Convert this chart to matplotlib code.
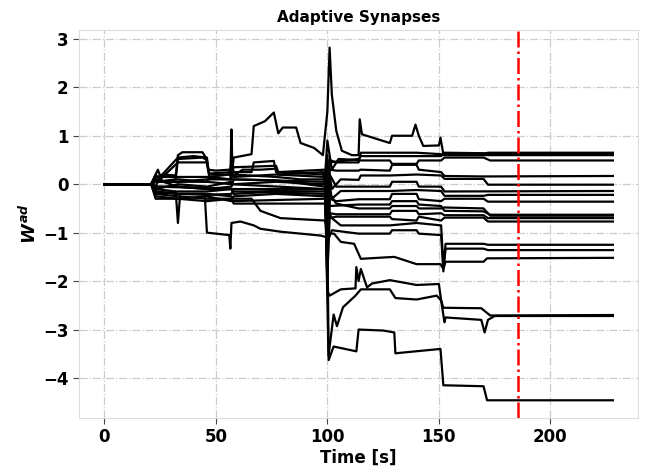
import matplotlib
matplotlib.use("Agg")
import matplotlib.pyplot as plt

plt.rcParams['font.family'] = 'DejaVu Sans'
plt.rcParams['font.weight'] = 'bold'
plt.rcParams['mathtext.fontset'] = 'custom'
plt.rcParams['mathtext.it'] = 'DejaVu Sans:italic:bold'
plt.rcParams['mathtext.rm'] = 'DejaVu Sans:bold'

# synapse weight traces: (time [s], weight) breakpoints
w_spike = [(0, 0), (21, 0), (23, 0.1), (25, 0.05), (33, 0.05), (46, 0.1), (57, 0.1), (58, 0.55),
           (66, 0.62), (67, 1.2), (72, 1.3), (76, 1.48), (78, 1.05), (80, 1.17), (86, 1.17), (88, 0.85),
           (94, 0.75), (98, 0.6), (100, 1.5), (101, 2.82), (102, 1.85), (104, 1.1), (106.5, 0.69),
           (111, 0.6), (114, 0.6), (114.5, 1.34), (115.5, 1.03), (128, 0.85), (129, 1.0), (138, 1.0),
           (139.5, 1.23), (141, 1.0), (143, 0.79), (150, 0.8), (150.7, 0.96), (152, 0.62), (170, 0.62),
           (172, 0.65), (228, 0.65)]
w_tophat = [(0, 0), (21, 0), (23, 0.12), (26, 0.2), (32, 0.18), (33, 0.6), (35, 0.66), (44, 0.66),
            (45.5, 0.55), (46.5, 0.3), (50, 0.28), (56, 0.3), (57, 0.15), (62, 0.3), (70, 0.3),
            (77, 0.32), (78, 0.2), (98, 0.25), (100, -0.3), (101, 0.5), (104, 0.45), (114, 0.45),
            (115, 0.65), (128, 0.65), (140, 0.65), (151, 0.62), (152.5, 0.6), (228, 0.6)]
w_top2 = [(0, 0), (21, 0), (23, 0.05), (32, 0.1), (33, 0.52), (44, 0.55), (46, 0.5), (47, 0.22),
          (57, 0.25), (58, 0.35), (77, 0.38), (78, 0.25), (99, 0.3), (100, -0.8), (101, 0.45),
          (114, 0.52), (115, 0.58), (151, 0.58), (152.5, 0.65), (170, 0.64), (173, 0.63), (228, 0.63)]
w_a = [(0, 0), (21, 0), (23, -0.05), (25, 0.15), (33, 0.55), (40, 0.58), (46, 0.55), (47, 0.15),
       (56, 0.2), (57, 0.45), (58, 0.25), (66, 0.25), (67, 0.45), (76, 0.48), (77, 0.25), (99, 0.2),
       (100, 0.9), (102, 0.3), (105, 0.52), (114, 0.5), (115, 0.49), (128, 0.49), (129, 0.42),
       (140, 0.42), (141, 0.49), (151, 0.49), (152.5, 0.55), (170, 0.55), (173, 0.49), (228, 0.49)]
w_b = [(0, 0), (21, 0), (23, 0.2), (25, 0.1), (33, 0.45), (46, 0.45), (47, 0.2), (57, 0.2),
       (58, 0.15), (77, 0.2), (99, 0.15), (100, -0.6), (101, 0.3), (104, 0.28), (114, 0.28),
       (115, 0.3), (128, 0.28), (129, 0.4), (140, 0.4), (141, 0.3), (151, 0.25), (152.5, 0.17),
       (170, 0.16), (228, 0.17)]
w_c = [(0, 0), (21, 0), (24, 0.3), (26, 0.05), (33, 0.1), (46, 0.05), (47, 0.12), (56.5, 0.1),
       (57, 1.13), (57.5, 0.2), (77, 0.15), (88, 0.1), (99, 0.1), (100, 0.5), (102, -0.1),
       (106, 0.1), (114, 0.09), (115, 0.18), (128, 0.18), (140, 0.2), (151, 0.18), (152.5, 0.11),
       (170, 0.11), (172, -0.01), (228, -0.01)]
w_d = [(0, 0), (21, 0), (23, -0.1), (33, 0.0), (46, -0.05), (57, 0.05), (58, 0.0), (77, 0.05),
       (99, 0.0), (100, -1.5), (101, 0.2), (104, -0.05), (114, -0.05), (128, -0.05), (129, 0.05),
       (140, 0.05), (141, -0.05), (151, -0.05), (152.5, -0.15), (228, -0.14)]
w_e = [(0, 0), (21, 0), (23, 0.1), (33, -0.05), (46, -0.1), (57, -0.05), (58, 0.1), (77, 0.08),
       (99, -0.05), (100, 0.3), (102, -0.3), (106, -0.14), (114, -0.14), (128, -0.14),
       (140, -0.12), (151, -0.14), (152.5, -0.24), (170, -0.24), (172, -0.22), (228, -0.22)]
w_f = [(0, 0), (21, 0), (24, -0.2), (33, -0.15), (46, -0.15), (57, -0.1), (58, -0.2), (77, -0.15),
       (99, -0.15), (100, -2.0), (101, -0.3), (104, -0.35), (114, -0.31), (128, -0.31), (129, -0.2),
       (140, -0.2), (141, -0.31), (151, -0.35), (152.5, -0.3), (170, -0.3), (172, -0.36), (228, -0.36)]
w_g = [(0, 0), (21, 0), (23, -0.1), (32, -0.15), (33, -0.8), (34, -0.2), (46, -0.2), (57, -0.25),
       (58, -0.3), (66, -0.3), (70, -0.55), (79, -0.7), (99, -0.75), (100, -1.0), (101, -0.2),
       (104, -0.4), (114, -0.5), (128, -0.5), (129, -0.45), (140, -0.45), (141, -0.5), (151, -0.5),
       (152.5, -0.48), (170, -0.5), (173, -0.65), (228, -0.65)]
w_g2 = [(0, 0), (21, 0), (23, -0.15), (33, -0.2), (46, -0.22), (57, -0.2), (58, -0.1), (77, -0.12),
        (99, -0.1), (100, 0.2), (101, -0.45), (114, -0.42), (128, -0.42), (129, -0.35), (140, -0.35),
        (141, -0.42), (151, -0.45), (152.5, -0.55), (170, -0.56), (173, -0.63), (228, -0.63)]
w_h = [(0, 0), (21, 0), (23, -0.2), (33, -0.25), (46, -0.3), (57, -0.3), (58, -0.25), (77, -0.2),
       (99, -0.25), (100, 0.6), (101, -0.6), (104, -0.62), (114, -0.62), (128, -0.62), (129, -0.55),
       (140, -0.55), (141, -0.62), (151, -0.6), (152.5, -0.64), (170, -0.64), (172, -0.7), (228, -0.7)]
w_i = [(0, 0), (21, 0), (23, -0.3), (33, -0.3), (46, -0.25), (57, -0.35), (99, -0.3), (100, -1.8),
       (101, -0.7), (104, -0.67), (128, -0.67), (129, -0.72), (140, -0.75), (141, -0.67),
       (151, -0.75), (152.5, -0.69), (170, -0.69), (172, -0.77), (228, -0.77)]
w_j = [(0, 0), (21, 0), (24, -0.05), (33, -0.05), (46, -0.1), (57, -0.1), (58, -0.15), (99, -0.2),
       (100, -0.5), (102, -0.7), (106, -0.85), (114, -0.85), (128, -0.85), (140, -0.8), (151, -0.85),
       (152, -1.7), (153, -1.23), (170, -1.23), (172, -1.25), (228, -1.25)]
w_k = [(0, 0), (21, 0), (23, 0.05), (46, 0.05), (57, 0.0), (99, -0.1), (100, -1.2), (102, -0.95),
       (114, -1.02), (128, -1.02), (129, -0.95), (140, -0.95), (141, -1.02), (151, -1.05),
       (152, -1.8), (153, -1.33), (170, -1.33), (172, -1.36), (228, -1.36)]
w_low = [(0, 0), (21, 0), (23, -0.15), (33, -0.2), (45, -0.2), (46, -1.0), (52, -1.03), (56, -1.05),
         (56.5, -1.33), (57, -0.8), (61, -0.77), (67, -0.85), (70, -0.92), (79, -0.98), (88, -1.02),
         (97, -1.06), (100, -1.1), (100.6, -3.63), (102.8, -3.35), (113, -3.45), (114, -3.0),
         (125, -3.02), (130, -3.06), (130.5, -3.49), (150.7, -3.4), (152, -4.15), (170, -4.17),
         (171.6, -4.46), (228, -4.46)]
w_m = [(0, 0), (21, 0), (23, -0.25), (33, -0.3), (46, -0.35), (57, -0.3), (58, -0.4), (99, -0.4),
       (100, -1.02), (103, -1.02), (106, -1.19), (112, -1.23), (115, -1.54), (130, -1.5),
       (140, -1.65), (150.7, -1.65), (152, -1.75), (153, -1.6), (170, -1.6), (171.6, -1.53),
       (228, -1.52)]
w_n = [(0, 0), (21, 0), (23, 0.15), (46, 0.15), (57, 0.1), (99, 0.05), (100, -2.2), (101, -2.3),
       (106, -2.17), (112.6, -2.15), (113, -1.71), (114, -2.0), (115, -1.75), (117.8, -2.13),
       (120, -2.05), (128, -1.98), (140, -2.08), (150, -2.06), (151, -2.4), (152, -2.55),
       (169, -2.56), (173, -2.71), (228, -2.70)]
w_o = [(0, 0), (21, 0), (23, -0.05), (46, -0.08), (57, -0.1), (99, -0.1), (100.5, -3.55),
       (102.8, -2.69), (104.3, -2.93), (107, -2.54), (112.6, -2.3), (115, -2.17), (128, -2.17),
       (130.5, -2.35), (140, -2.38), (149, -2.3), (151, -2.4), (152.5, -2.85), (153, -2.75),
       (169, -2.8), (170.5, -3.06), (172, -2.8), (175, -2.72), (228, -2.72)]

traces = [w_spike, w_tophat, w_top2, w_a, w_b, w_c, w_d, w_e, w_f, w_g, w_g2, w_h, w_i, w_j,
          w_k, w_low, w_m, w_n, w_o]
t_marker = 185.5

fig = plt.figure(figsize=(6.52, 4.68), dpi=100)
ax = fig.add_axes([0.121, 0.107, 0.858, 0.829])

for tr in traces:
    t = [p[0] for p in tr]
    w = [p[1] for p in tr]
    ax.plot(t, w, color='black', lw=1.6)

ax.axvline(t_marker, color='red', ls='-.', lw=1.8)

ax.grid(True, ls='-.', color='#cccccc', lw=0.9)
ax.set_axisbelow(True)
for s in ax.spines.values():
    s.set_color('#dddddd')
ax.tick_params(labelsize=12, color='#444444', length=4)
for lab in ax.get_xticklabels() + ax.get_yticklabels():
    lab.set_fontweight('bold')

ax.set_title('Adaptive Synapses', fontsize=11, fontweight='bold')
ax.set_xlabel('Time [s]', fontsize=12, fontweight='bold', labelpad=2)
ax.set_ylabel('$W^{ad}$', fontsize=13, labelpad=2)

fig.savefig('out.png', dpi=100)
